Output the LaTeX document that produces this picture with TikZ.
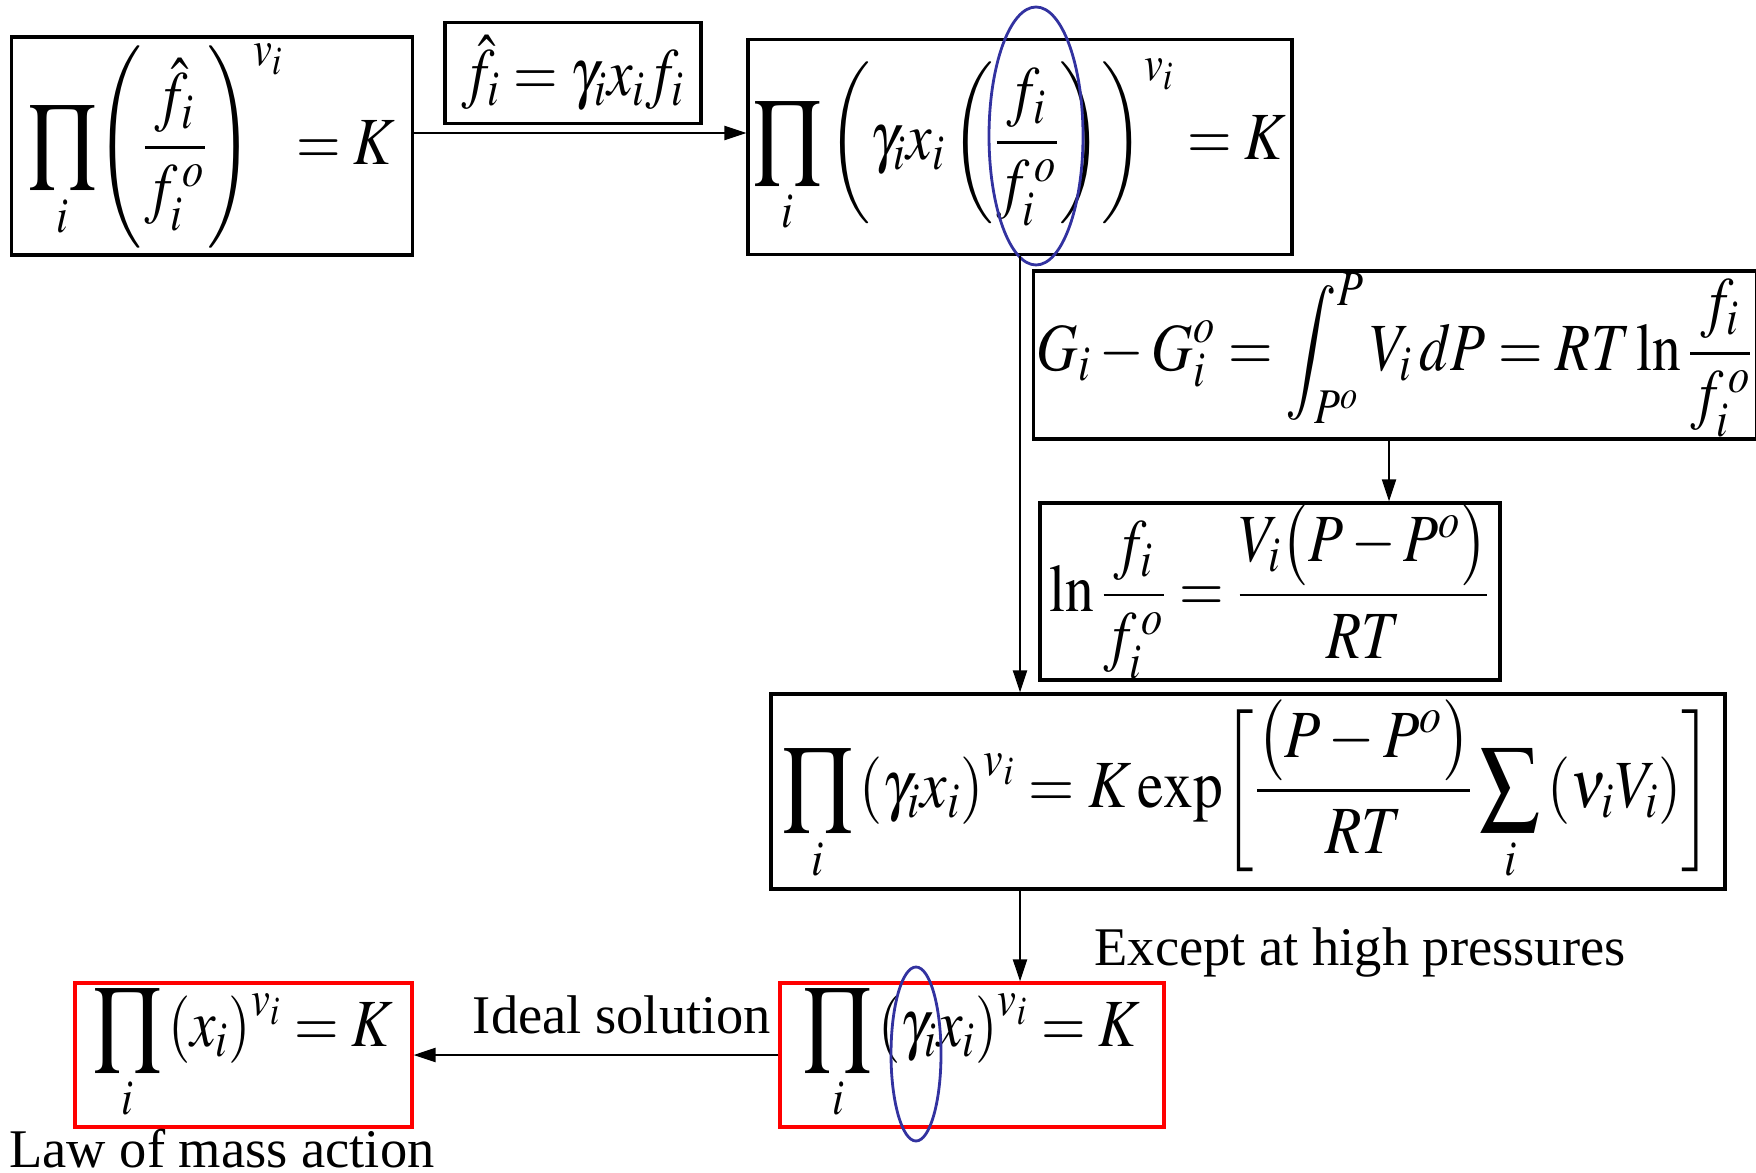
\documentclass[tikz,border=0pt]{standalone}
\usepackage{graphicx}
\usepackage{amsmath}
\usepackage{mathptmx}
\usepackage{fontspec}
\setmainfont{Liberation Serif}
\usetikzlibrary{arrows.meta,positioning,shapes.geometric}
\definecolor{ringblue}{RGB}{50,50,160}
\newcommand{\eqsq}[2][0.68]{\scalebox{#1}[0.8]{#2}}

\begin{document}
\begin{tikzpicture}[
  >={Triangle[length=2.2mm,width=1.4mm]},
  eqbox/.style={rectangle, draw=black, line width=0.9pt, inner xsep=1pt, inner ysep=0pt,
    font=\fontsize{24}{29}\selectfont},
  redbox/.style={eqbox, draw=red},
  note/.style={font=\fontsize{15.5}{19}\selectfont, inner sep=1pt},
  ring/.style={draw=ringblue, line width=0.8pt},
  link/.style={line width=0.6pt, ->},
]
  \useasboundingbox (0,0) rectangle (17.56,-11.73);
  % equilibrium in fugacities
  \node[eqbox, minimum width=4.01cm, minimum height=2.18cm] (start) at (2.12,-1.46)
    {\eqsq{$\displaystyle\prod_i\Biggl(\frac{\hat f_i}{f_i^{\,o}}\Biggr)^{v_i}=K$}};
  \node[eqbox, minimum width=2.56cm, minimum height=1.01cm] (subst) at (5.73,-0.73)
    {\eqsq{$\hat f_i=\gamma_i x_i f_i$}};
  \node[eqbox, minimum width=5.44cm, minimum height=2.15cm] (gamma) at (10.20,-1.47)
    {\eqsq{$\displaystyle\prod_i\left(\gamma_i x_i\left(\frac{f_i}{f_i^{\,o}}\right)\right)^{v_i}=K$}};
  \node[eqbox, minimum width=7.18cm, minimum height=1.68cm] (gibbs) at (13.95,-3.55)
    {\eqsq{$\displaystyle G_i-G_i^o=\int_{P^o}^{P}V_i\,dP=RT\ln\frac{f_i}{f_i^{\,o}}$}};
  \node[eqbox, minimum width=4.6cm, minimum height=1.77cm] (lnf) at (12.70,-5.915)
    {\eqsq{$\displaystyle\ln\frac{f_i}{f_i^{\,o}}=\frac{V_i\bigl(P-P^o\bigr)}{RT}$}};
  \node[eqbox, minimum width=9.54cm, minimum height=1.95cm] (poynt) at (12.48,-7.915)
    {\eqsq[0.705]{$\displaystyle\prod_i\left(\gamma_i x_i\right)^{v_i}=K\exp\biggl[\frac{\bigl(P-P^o\bigr)}{RT}\sum_i\left(\nu_i V_i\right)\biggr]$}};
  % low pressure forms
  \node[redbox, minimum width=3.84cm, minimum height=1.44cm] (lowp) at (9.72,-10.55)
    {\eqsq{$\displaystyle\prod_i\left(\gamma_i x_i\right)^{v_i}=K$}};
  \node[redbox, minimum width=3.37cm, minimum height=1.44cm] (mass) at (2.435,-10.55)
    {\eqsq{$\displaystyle\prod_i\left(x_i\right)^{v_i}=K$}};

  \draw[ring] (10.36,-1.36) ellipse [x radius=0.47, y radius=1.29];
  \draw[ring] (9.16,-10.54) ellipse [x radius=0.25, y radius=0.87];

  \draw[link] ([yshift=1.3mm]start.east) -- ([yshift=1.3mm]start.east -| gamma.west);
  \draw[link] (gamma.south) -- (gamma.south |- poynt.north);
  \draw[link] ([xshift=-0.6mm]gibbs.south) -- ([xshift=-0.6mm]gibbs.south |- lnf.north);
  \draw[link] (gamma.south |- poynt.south) -- (gamma.south |- lowp.north);
  \draw[link] (lowp.west) -- (mass.east);

  \node[note] (hp) at (13.6,-9.52) {Except at high pressures};
  \node[note] (ideal) at (6.22,-10.15) {Ideal solution};
  \node[note] (law) at (2.22,-11.49) {Law of mass action};
\end{tikzpicture}
\end{document}
